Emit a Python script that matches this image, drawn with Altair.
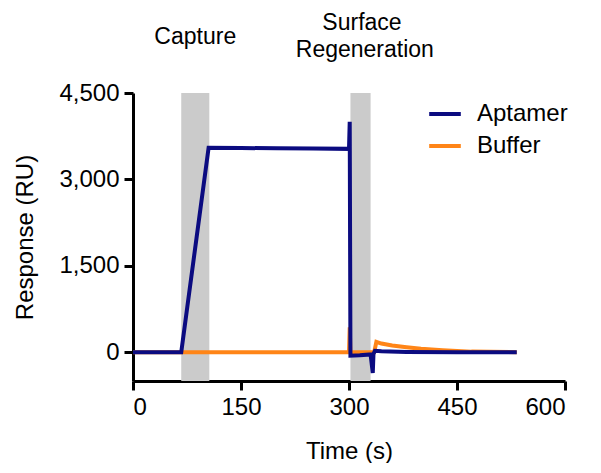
import altair as alt
import pandas as pd

# Aptamer sensorgram
apt_t = [0, 67, 105, 150, 200, 250, 300, 301, 302, 315, 330, 333, 334, 336, 345, 380, 450, 533]
apt_r = [0, 0, 3550, 3545, 3540, 3535, 3530, 4000, -60, -55, -40, -360, -30, 25, 15, 5, 0, 0]

# Buffer sensorgram
buf_t = [0, 300, 301, 302, 335, 338, 345, 360, 380, 400, 430, 470, 533]
buf_r = [0, 0, 430, 0, 0, 180, 150, 115, 85, 60, 35, 10, 0]

# Shaded phases
band_start = [67, 302]
band_end = [106, 330]

series = ["Aptamer", "Buffer"]
colors = ["#0b0b80", "#ff8517"]

x_ticks = [0, 150, 300, 450, 600]
y_ticks = [0, 1500, 3000, 4500]

apt_df = pd.DataFrame({"t": apt_t, "r": apt_r, "series": "Aptamer"})
buf_df = pd.DataFrame({"t": buf_t, "r": buf_r, "series": "Buffer"})
band_df = pd.DataFrame({"start": band_start, "end": band_end})

W, H = 432, 288

xscale = alt.Scale(domain=[0, 600], nice=False, zero=False)
yscale = alt.Scale(domain=[-500, 4500], nice=False, zero=False)

color = alt.Color(
    "series:N",
    scale=alt.Scale(domain=series, range=colors),
    legend=alt.Legend(
        title=None,
        orient="none",
        legendX=294,
        legendY=3,
        symbolType="stroke",
        symbolSize=1000,
        symbolStrokeWidth=4,
        labelFontSize=24,
        labelOffset=14,
        rowPadding=2,
    ),
)

bands = alt.Chart(band_df).mark_rect(color="#cbcbcb").encode(
    x=alt.X("start:Q", scale=xscale),
    x2="end:Q",
    y=alt.value(0),
    y2=alt.value(H),
)

xaxis = alt.Axis(values=x_ticks, title="Time (s)", grid=False)
yaxis = alt.Axis(values=y_ticks, format=",d", title="Response (RU)", grid=False)

buf_line = alt.Chart(buf_df).mark_line(strokeWidth=4).encode(
    x=alt.X("t:Q", scale=xscale, axis=xaxis),
    y=alt.Y("r:Q", scale=yscale, axis=yaxis),
    color=color,
)

apt_line = alt.Chart(apt_df).mark_line(strokeWidth=4).encode(
    x=alt.X("t:Q", scale=xscale, axis=xaxis),
    y=alt.Y("r:Q", scale=yscale, axis=yaxis),
    color=color,
)

lbl_capture = alt.Chart(pd.DataFrame({"t": [86.5], "txt": ["Capture"]})).mark_text(
    fontSize=23, baseline="middle", align="center", color="black"
).encode(x=alt.X("t:Q", scale=xscale), y=alt.value(-56), text="txt:N")

lbl_surface = alt.Chart(pd.DataFrame({"t": [318], "txt": ["Surface"]})).mark_text(
    fontSize=23, baseline="middle", align="center", color="black"
).encode(x=alt.X("t:Q", scale=xscale), y=alt.value(-70), text="txt:N")

lbl_regen = alt.Chart(pd.DataFrame({"t": [322], "txt": ["Regeneration"]})).mark_text(
    fontSize=23, baseline="middle", align="center", color="black"
).encode(x=alt.X("t:Q", scale=xscale), y=alt.value(-43), text="txt:N")

chart = (
    alt.layer(bands, buf_line, apt_line, lbl_capture, lbl_surface, lbl_regen)
    .properties(
        width=W,
        height=H,
        autosize=alt.AutoSizeParams(type="none"),
        padding={"left": 125, "top": 85, "right": 28, "bottom": 82},
    )
    .configure(font="Liberation Sans")
    .configure_view(stroke=None)
    .configure_axis(
        domainColor="black",
        domainWidth=3,
        tickColor="black",
        tickWidth=3,
        tickSize=9,
        labelFontSize=24,
        labelColor="black",
        labelPadding=5,
        titleFontSize=24,
        titleFontWeight="normal",
        titleColor="black",
    )
    .configure_axisX(titlePadding=20)
    .configure_axisY(titlePadding=21)
    .configure_legend(labelColor="black")
)

chart.save("out.html", embed_options={"renderer": "svg", "actions": False})
